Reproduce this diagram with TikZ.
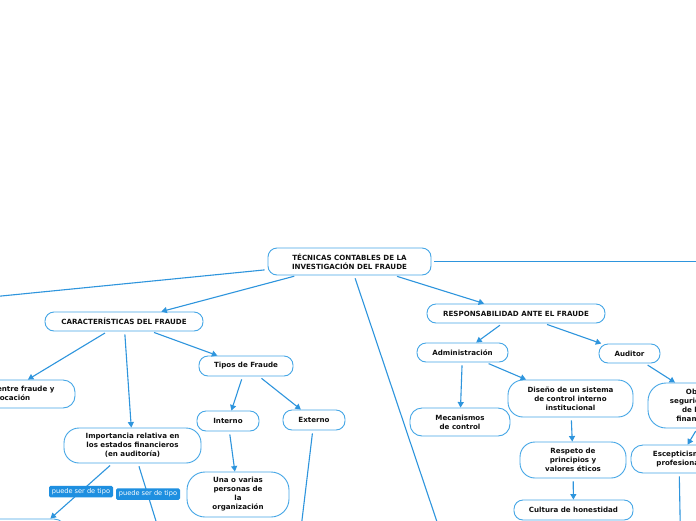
\documentclass[tikz,border=0pt]{standalone}
\usepackage{fontspec}
\setmainfont{DejaVu Sans}
\usetikzlibrary{arrows.meta}
\definecolor{bord}{HTML}{45A6E6}
\definecolor{connc}{HTML}{2E95DD}
\definecolor{labc}{HTML}{1E8FE0}
\definecolor{txt}{HTML}{111111}
\tikzset{
 box/.style={draw=bord, line width=0.9pt, fill=white, rounded corners=9pt, align=center,
   font=\fontsize{7.1}{9}\selectfont\bfseries, text=txt, inner sep=0pt},
 bigbox/.style={box, rounded corners=15pt},
 link/.style={draw=connc, line width=1.1pt, shorten <=3pt},
 arr/.style={link, -{Triangle[length=5.5pt,width=6pt]}},
 lbl/.style={fill=labc, text=white, rounded corners=1.5pt, font=\fontsize{6.6}{7.5}\selectfont,
   inner sep=0pt, minimum width=64pt, minimum height=11.5pt},
}
\begin{document}
\begin{tikzpicture}[x=1pt,y=-1pt]
\useasboundingbox (0,0) rectangle (696,520);
\clip (0,0) rectangle (696,520);
\fill[white] (0,0) rectangle (696,520);
% nodes
\node[box, minimum width=163pt, minimum height=27pt] (main) at (349.5,261.5) {TÉCNICAS CONTABLES DE LA\\INVESTIGACIÓN DEL FRAUDE};
\node[box, minimum width=158pt, minimum height=19pt] (car) at (124,321.5) {CARACTERÍSTICAS DEL FRAUDE};
\node[box, minimum width=178pt, minimum height=19pt] (resp) at (516,313.5) {RESPONSABILIDAD ANTE EL FRAUDE};
\node[box, minimum width=142pt, minimum height=28pt, rounded corners=12pt] (dif) at (4,394) {Diferencia entre fraude y\\equivocación};
\node[bigbox, minimum width=137pt, minimum height=35pt] (imp) at (132.5,445.5) {Importancia relativa en\\los estados financieros\\(en auditoría)};
\node[box, minimum width=94pt, minimum height=20pt] (tip) at (246,366) {Tipos de Fraude};
\node[box, minimum width=62pt, minimum height=20pt] (int) at (228,421) {Interno};
\node[box, minimum width=62pt, minimum height=20pt] (ext) at (314,420) {Externo};
\node[bigbox, minimum width=102pt, minimum height=45pt, rounded corners=18pt] (una) at (238,494.5) {Una o varias\\personas de\\la\\organización};
\node[box, minimum width=146pt, minimum height=41pt, rounded corners=12pt] (lb) at (-7,539.5) {};
\node[box, minimum width=91pt, minimum height=19pt] (adm) at (462.5,352.5) {Administración};
\node[box, minimum width=61pt, minimum height=19pt] (aud) at (629.5,353.5) {Auditor};
\node[bigbox, minimum width=100pt, minimum height=28pt, rounded corners=12pt] (mec) at (460,422) {Mecanismos\\de control};
\node[bigbox, minimum width=125pt, minimum height=37pt] (dis) at (570.5,398.5) {Diseño de un sistema\\de control interno\\institucional};
\node[bigbox, minimum width=106pt, minimum height=36pt] (res) at (573,460) {Respeto de\\principios y\\valores éticos};
\node[box, minimum width=119pt, minimum height=20pt] (cul) at (573.5,510) {Cultura de honestidad};
\node[bigbox, minimum width=126pt, minimum height=45pt, rounded corners=18pt] (obt) at (711,405.5) {Obtener una\\seguridad razonable\\de los estados\\financieros libres};
\node[bigbox, minimum width=96pt, minimum height=28pt, rounded corners=12pt] (esc) at (679,459) {Escepticismo\\profesional};
% off-canvas ends
\coordinate (offL) at (-150,311);
\coordinate (offR) at (900,261.5);
\coordinate (offD) at (470,620);
\coordinate (offE) at (290,620);
\coordinate (offS) at (682,620);
\coordinate (offI) at (165,550);
% connectors
\draw[link] (main) -- (offL);
\draw[link] (main) -- (offR);
\draw[link] (main) -- (offD);
\draw[arr] (main) -- (car);
\draw[arr] (main) -- (resp);
\draw[arr] (car) -- (dif);
\draw[arr] (car) -- (imp);
\draw[arr] (car) -- (tip);
\draw[arr] (tip) -- (int);
\draw[arr] (tip) -- (ext);
\draw[arr] (int) -- (una);
\draw[link] (ext) -- (offE);
\draw[arr] (imp) -- ([xshift=-16pt]lb.north east);
\draw[arr] (imp) -- (offI);
\draw[arr] (resp) -- (adm);
\draw[arr] (resp) -- (aud);
\draw[arr] (adm) -- (mec);
\draw[arr] (adm) -- (dis);
\draw[arr] (dis) -- (res);
\draw[arr] (res) -- (cul);
\draw[arr] (aud) -- (obt);
\draw[arr] (obt) -- (esc);
\draw[link] (esc) -- (offS);
% labels
\node[lbl] (l1) at (81,491.5) {puede ser de tipo};
\node[lbl] (l2) at (148,494) {puede ser de tipo};
\end{tikzpicture}
\end{document}
